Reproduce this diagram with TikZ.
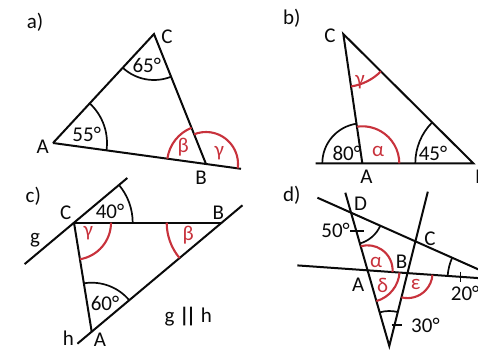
\documentclass[tikz,border=0pt]{standalone}
\usepackage{fontspec}
\setmainfont{Carlito}
\usetikzlibrary{angles, calc}
\definecolor{myred}{RGB}{200,50,60}
\definecolor{mydark}{RGB}{10,10,10}
\tikzset{
  seg/.style={line width=2pt, color=mydark},
  blackarc/.style={draw=mydark, line width=1.7pt},
  redarc/.style={draw=myred, line width=2.1pt},
  lbl/.style={font=\fontsize{21}{25}\selectfont, inner sep=0pt, text=mydark},
  redlbl/.style={lbl, text=myred},
  leader/.style={line width=1.3pt, color=mydark}
}

\begin{document}
\begin{tikzpicture}[x=1pt, y=1pt]
  \useasboundingbox (0,0) rectangle (478,351);
  \clip (0,0) rectangle (478,351);

  % a)
  \coordinate (aA) at (53,208);
  \coordinate (aB) at (206,187);
  \coordinate (aC) at (154,317);
  \coordinate (aX) at (241,182.2);
  \draw [seg] (aA) -- (aC) -- (aB);
  \draw [seg] (aA) -- (aX);
  \pic [blackarc, angle radius=54pt] {angle = aB--aA--aC};
  \pic [blackarc, angle radius=46pt] {angle = aA--aC--aB};
  \pic [redarc, angle radius=39pt] {angle = aC--aB--aA};
  \pic [redarc, angle radius=32pt] {angle = aX--aB--aC};
  \node [lbl] (atag) at (35,329) {a)};
  \node [lbl] (alA) at (42.7,204) {A};
  \node [lbl] (alB) at (201,173) {B};
  \node [lbl] (alC) at (167,314) {C};
  \node [lbl] (a55) at (86.7,217) {55°};
  \node [lbl] (a65) at (146.7,286) {65°};
  \node [redlbl] (abeta) at (183.3,204.3) {β};
  \node [redlbl] (agamma) at (219.3,198.3) {γ};

  % b)
  \coordinate (bA) at (362.3,187.7);
  \coordinate (bB) at (473.3,187.7);
  \coordinate (bC) at (343.3,317);
  \coordinate (bL) at (315.5,187.7);
  \draw [seg] (bL) -- (bB) -- (bC) -- (bA);
  \pic [blackarc, angle radius=40pt] {angle = bC--bA--bL};
  \pic [redarc, angle radius=37pt] {angle = bB--bA--bC};
  \pic [redarc, angle radius=53pt] {angle = bA--bC--bB};
  \pic [blackarc, angle radius=58pt] {angle = bC--bB--bA};
  \node [lbl] (btag) at (291.7,332.7) {b)};
  \node [lbl] (blA) at (366.5,174) {A};
  \node [lbl] (blB) at (481,174) {B};
  \node [lbl] (blC) at (330,315) {C};
  \node [lbl] (b80) at (346.7,197.7) {80°};
  \node [lbl] (b45) at (433,198) {45°};
  \node [redlbl] (balpha) at (378,199.3) {α};
  \node [redlbl] (bgamma) at (360,269.3) {γ};

  % c)
  \coordinate (cA) at (91.7,19.3);
  \coordinate (cB) at (221.7,128.3);
  \coordinate (cC) at (74,128.3);
  \coordinate (cg1) at (24.6,86.9);
  \coordinate (cg2) at (127.3,173);
  \coordinate (ch1) at ($(cA)!-0.11!(cB)$);
  \coordinate (ch2) at ($(cA)!1.16!(cB)$);
  \draw [seg] (cg1) -- (cg2);
  \draw [seg] (ch1) -- (ch2);
  \draw [seg] (cC) -- (cB);
  \draw [seg] (cC) -- (cA);
  \pic [blackarc, angle radius=58.7pt] {angle = cB--cC--cg2};
  \pic [redarc, angle radius=37pt] {angle = cA--cC--cB};
  \pic [redarc, angle radius=55pt] {angle = cC--cB--cA};
  \pic [blackarc, angle radius=49pt] {angle = cB--cA--cC};
  \node [lbl] (ctag) at (33.3,154.3) {c)};
  \node [lbl] (clC) at (65.7,138.7) {C};
  \node [lbl] (clB) at (218.3,138.7) {B};
  \node [lbl] (clA) at (100,10.8) {A};
  \node [lbl] (clg) at (35,110.3) {g};
  \node [lbl] (clh) at (68.3,12.7) {h};
  \node [lbl] (c40) at (110,139.3) {40°};
  \node [lbl] (c60) at (105,47.7) {60°};
  \node [redlbl] (cgamma) at (88.3,117.7) {γ};
  \node [redlbl] (cbeta) at (188.3,116) {β};
  \node [lbl] (cpar) at (188.3,34.3) {g \textbf{|\kern-3.2pt|} h};

  % d)
  \coordinate (dP) at (389.3,5);
  \coordinate (dA) at (367.6,80.7);
  \coordinate (dB) at (407.5,77.9);
  \coordinate (dC) at (415.4,109.7);
  \coordinate (dD) at (351.1,138.3);
  \coordinate (dE) at (501.5,71.3);
  \coordinate (d1s) at (317.4,153.3);
  \coordinate (d2s) at (297.3,85.6);
  \coordinate (d3s) at (345.3,158.3);
  \coordinate (d4s) at (427.8,159.3);
  \draw [seg] (d1s) -- (dE);
  \draw [seg] (d2s) -- (dE);
  \draw [seg] (d3s) -- (dP) -- (d4s);
  \pic [redarc, angle radius=25pt] {angle = dB--dA--dD};
  \pic [redarc, angle radius=32pt] {angle = dP--dA--dB};
  \pic [redarc, angle radius=25pt] {angle = dP--dB--dE};
  \pic [blackarc, angle radius=32pt] {angle = dP--dD--dC};
  \pic [blackarc, angle radius=35pt] {angle = dB--dP--dA};
  \pic [blackarc, angle radius=54pt] {angle = dD--dE--dA};
  \coordinate (dt50a) at (350,120);
  \coordinate (dt50b) at (364,120);
  \coordinate (dt20a) at (460.7,79.3);
  \coordinate (dt20b) at (460.7,69.3);
  \coordinate (dt30a) at (391.7,26);
  \coordinate (dt30b) at (402,26);
  \draw [leader] (dt50a) -- (dt50b);
  \draw [leader] (dt20a) -- (dt20b);
  \draw [leader] (dt30a) -- (dt30b);
  \node [lbl] (dtag) at (291.7,156) {d)};
  \node [lbl] (dlD) at (360.7,147.7) {D};
  \node [lbl] (dlC) at (430,112.7) {C};
  \node [lbl] (dlB) at (401.7,89.3) {B};
  \node [lbl] (dlA) at (358.3,66) {A};
  \node [lbl, anchor=east] (d50) at (350,121) {50°};
  \node [lbl, anchor=west] (d20) at (450.7,57.7) {20°};
  \node [lbl, anchor=west] (d30) at (411,26) {30°};
  \node [redlbl] (dalpha) at (376,88.3) {α};
  \node [redlbl] (ddelta) at (382.7,66) {δ};
  \node [redlbl] (deps) at (415.7,67) {ε};
\end{tikzpicture}
\end{document}
